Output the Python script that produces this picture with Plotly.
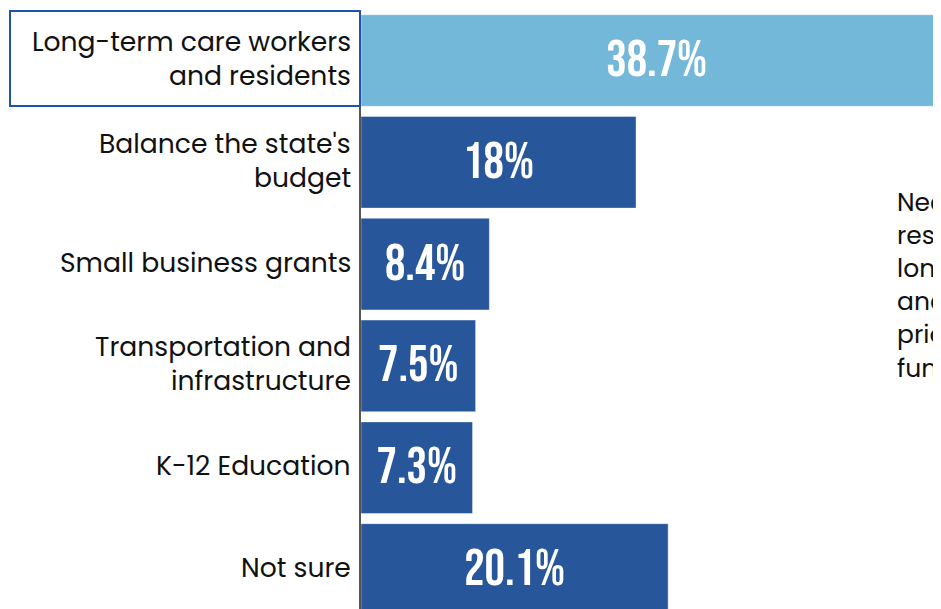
import plotly.graph_objects as go

categories = [
    "Long-term care workers<br>and residents",
    "Balance the state's<br>budget",
    "Small business grants",
    "Transportation and<br>infrastructure",
    "K-12 Education",
    "Not sure",
]
values = [38.7, 18, 8.4, 7.5, 7.3, 20.1]
value_labels = ["38.7%", "18%", "8.4%", "7.5%", "7.3%", "20.1%"]
highlight_color = "#74b8d9"
base_color = "#27569a"
side_text = [
    "Nearly 4 in 10",
    "respondents chose",
    "long-term care workers",
    "and residents as their top",
    "priority for relief",
    "funding.",
]

OFF = 8  # browser body margin
W, H = 941 - OFF, 609 - OFF
ML, MT = 361 - OFF, 10 - OFF
PW = W - ML
PITCH = 101.8
FIRST_CENTER = 60.5 - OFF  # px from top of figure

colors = [highlight_color] + [base_color] * (len(values) - 1)
ids = list(range(len(categories)))

fig = go.Figure()
fig.add_trace(go.Bar(
    y=ids, x=values, orientation="h",
    marker=dict(color=colors, line=dict(color="rgba(255,255,255,0.4)", width=1)),
    text=value_labels, textposition="inside", insidetextanchor="middle",
    textfont=dict(family="Bebas Neue, Oswald, Roboto Condensed, Liberation Sans Narrow, DejaVu Sans Condensed, sans-serif",
                  size=51, color="white"),
    cliponaxis=True, width=0.9, hoverinfo="skip",
))

def py_to_cat(py_page):
    return (py_page - OFF - FIRST_CENTER) / PITCH

def px_to_paper(px_page):
    return (px_page - OFF - ML) / PW

label_font = dict(family="Poppins, Open Sans, sans-serif", size=26.6, color="#111111")
annotations = []
for i, c in enumerate(categories):
    lines = c.split("<br>")
    n = len(lines)
    for j, ln in enumerate(lines):
        annotations.append(dict(
            xref="paper", yref="y", x=0, y=i, xanchor="right", yanchor="middle",
            xshift=-8, yshift=-(j - (n - 1) / 2) * 34 + 2,
            text=ln, showarrow=False, font=label_font, align="right",
        ))

for k, ln in enumerate(side_text):
    py = 202 + k * 33.2
    annotations.append(dict(
        xref="paper", yref="y", x=px_to_paper(895), y=py_to_cat(py),
        xanchor="left", yanchor="middle", text=ln, showarrow=False,
        font=dict(family="Poppins, Open Sans, sans-serif", size=25, color="#111111"),
    ))

fig.update_layout(
    width=W, height=H,
    margin=dict(l=ML, r=0, t=MT, b=0, pad=0),
    paper_bgcolor="white", plot_bgcolor="white",
    showlegend=False, bargap=0.1,
    annotations=annotations,
    shapes=[dict(
        type="rect", xref="paper", yref="y",
        x0=px_to_paper(10), x1=px_to_paper(360),
        y0=py_to_cat(11), y1=py_to_cat(106),
        line=dict(color="#1f52a8", width=2), fillcolor="rgba(0,0,0,0)", layer="above",
    )],
    xaxis=dict(range=[0, PW / 15.28], visible=False, fixedrange=True),
    yaxis=dict(
        range=[py_to_cat(609), py_to_cat(10)], showticklabels=False, showgrid=False,
        zeroline=False, showline=True, linecolor="#555555", linewidth=2,
        ticks="", fixedrange=True,
    ),
)

fig.write_html("out.html")
